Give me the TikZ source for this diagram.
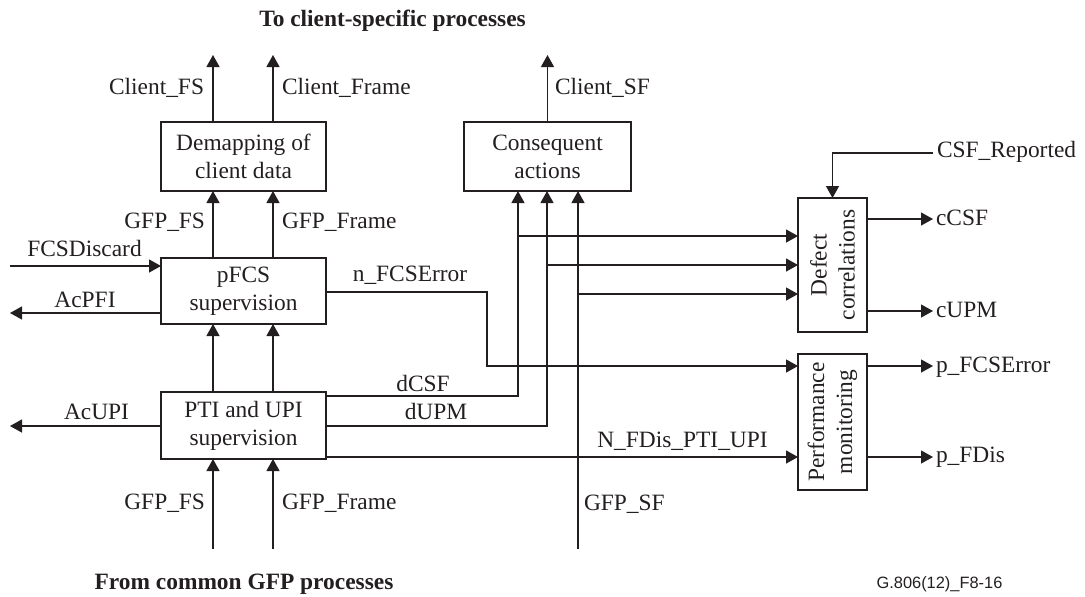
\documentclass[tikz,border=0pt]{standalone}
\usepackage{fontspec}
\setmainfont{Liberation Serif}
\newfontfamily\figsans{Liberation Sans}
\usetikzlibrary{arrows.meta}
\definecolor{ink}{RGB}{35,31,32}
\tikzset{
  every node/.style={inner sep=0pt, outer sep=0pt, text=ink},
  txt/.style={font=\fontsize{11.7pt}{14pt}\selectfont},
  boxnode/.style={draw=ink, line width=0.8pt, align=center, font=\fontsize{11.7pt}{14pt}\selectfont},
  arr/.style={draw=ink, line width=0.6pt, -{Triangle[length=6pt,width=6.5pt]}},
  ln/.style={draw=ink, line width=0.6pt},
  ttl/.style={font=\bfseries\fontsize{11.7pt}{14pt}\selectfont}
}
\begin{document}
\begin{tikzpicture}[x=0.5pt,y=-0.5pt]
\useasboundingbox (0,0) rectangle (1085,596);
% boxes
\node[boxnode, minimum width=82.5pt, minimum height=34.5pt] (demap) at (243.5,156.5) {Demapping of\\client data};
\node[boxnode, minimum width=82.5pt, minimum height=33pt] (pfcs) at (243.5,291) {pFCS\\supervision};
\node[boxnode, minimum width=82.5pt, minimum height=33.5pt] (pti) at (243.5,425.5) {PTI and UPI\\supervision};
\node[boxnode, minimum width=83.5pt, minimum height=34.5pt] (cons) at (547.5,156.5) {Consequent\\actions};
\node[boxnode, minimum width=34.5pt, minimum height=67pt] (defect) at (832.5,265) {};
\node[boxnode, draw=none, rotate=90] (defecttxt) at (defect) {Defect\\correlations};
\node[boxnode, minimum width=34.5pt, minimum height=68pt] (perf) at (832.5,422) {};
\node[boxnode, draw=none, rotate=90] (perftxt) at (perf) {Performance\\monitoring};

% coordinates
\coordinate (cfs) at (213,55);
\coordinate (cfr) at (273,55);
\coordinate (csfo) at (547.5,55);
\coordinate (infs) at (213,549);
\coordinate (infr) at (273,549);
\coordinate (fcsd) at (10,266);
\coordinate (acpfi) at (10,313);
\coordinate (acupi) at (10,426);
\coordinate (nf) at (487,292);
\coordinate (pfe) at (933,366);
\coordinate (dc) at (518,396);
\coordinate (du) at (547,426);
\coordinate (gs) at (578,549);
\coordinate (b1) at (518,236);
\coordinate (b2) at (547,265);
\coordinate (b3) at (578,294);
\coordinate (nfd) at (933,457);
\coordinate (ccsf) at (933,219);
\coordinate (cupm) at (933,311);
\coordinate (csfr) at (933,153);

% connectors
\draw[arr] (demap.north -| cfs) -- (cfs);
\draw[arr] (demap.north -| cfr) -- (cfr);
\draw[arr] (pfcs.north -| cfs) -- (demap.south -| cfs);
\draw[arr] (pfcs.north -| cfr) -- (demap.south -| cfr);
\draw[arr] (pti.north -| cfs) -- (pfcs.south -| cfs);
\draw[arr] (pti.north -| cfr) -- (pfcs.south -| cfr);
\draw[arr] (infs) -- (pti.south -| infs);
\draw[arr] (infr) -- (pti.south -| infr);
\draw[arr] (cons.north) -- (csfo);
\draw[arr] (fcsd) -- (fcsd -| pfcs.west);
\draw[arr] (acpfi -| pfcs.west) -- (acpfi);
\draw[arr] (acupi -| pti.west) -- (acupi);
\draw[arr] (nf -| pfcs.east) -- (nf) |- (pfe -| perf.west);
\draw[arr] (dc -| pti.east) -- (dc) -- (dc |- cons.south);
\draw[arr] (du -| pti.east) -- (du) -- (du |- cons.south);
\draw[arr] (gs) -- (gs |- cons.south);
\draw[arr] (b1) -- (b1 -| defect.west);
\draw[arr] (b2) -- (b2 -| defect.west);
\draw[arr] (b3) -- (b3 -| defect.west);
\draw[arr] (nfd -| pti.east) -- (nfd -| perf.west);
\draw[arr] (nfd -| perf.east) -- (nfd);
\draw[arr] (pfe -| perf.east) -- (pfe);
\draw[arr] (ccsf -| defect.east) -- (ccsf);
\draw[arr] (cupm -| defect.east) -- (cupm);
\draw[arr] (csfr) -| (defect.north);

% labels
\node[txt, anchor=mid east] (lcfs) at (204,90) {Client\_FS};
\node[txt, anchor=mid west] (lcfr) at (282,90) {Client\_Frame};
\node[txt, anchor=mid west] (lcsf) at (555,90) {Client\_SF};
\node[txt, anchor=mid east] (lgfs1) at (205,224) {GFP\_FS};
\node[txt, anchor=mid west] (lgfr1) at (282,224) {GFP\_Frame};
\node[txt, anchor=mid] (lfcsd) at (84.5,252) {FCSDiscard};
\node[txt, anchor=mid] (lacpfi) at (85,303) {AcPFI};
\node[txt, anchor=mid] (lacupi) at (96.5,415) {AcUPI};
\node[txt, anchor=mid] (lnf) at (410,277) {n\_FCSError};
\node[txt, anchor=mid] (ldc) at (423,387) {dCSF};
\node[txt, anchor=mid] (ldu) at (436,415) {dUPM};
\node[txt, anchor=mid] (lnfd) at (682.5,443) {N\_FDis\_PTI\_UPI};
\node[txt, anchor=mid east] (lgfs2) at (205,505) {GFP\_FS};
\node[txt, anchor=mid west] (lgfr2) at (282,505) {GFP\_Frame};
\node[txt, anchor=mid west] (lgsf) at (584,506) {GFP\_SF};
\node[txt, anchor=mid west] (lcsfr) at (937,153) {CSF\_Reported};
\node[txt, anchor=mid west] (lccsf) at (936,221) {cCSF};
\node[txt, anchor=mid west] (lcupm) at (936,313) {cUPM};
\node[txt, anchor=mid west] (lpfe) at (936,368) {p\_FCSError};
\node[txt, anchor=mid west] (lpfd) at (936,458) {p\_FDis};
\node[ttl, anchor=mid] (ttop) at (392.5,22) {To client-specific processes};
\node[ttl, anchor=mid] (tbot) at (244,585) {From common GFP processes};
\node[font=\figsans\fontsize{8.2pt}{10pt}\selectfont, anchor=mid] (fig) at (939.5,584) {G.806(12)\_F8-16};
\end{tikzpicture}
\end{document}
